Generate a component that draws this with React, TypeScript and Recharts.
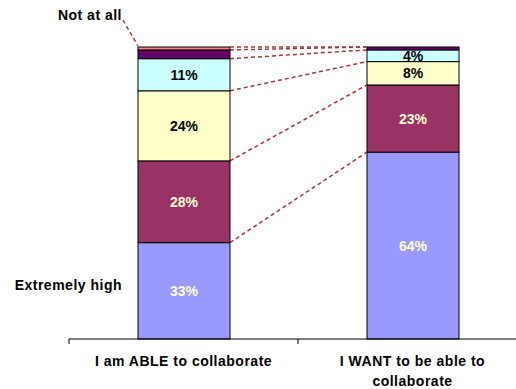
import React from 'react';
import { BarChart, Bar, XAxis, YAxis, LabelList } from 'recharts';

const categories = ['I am ABLE to collaborate', 'I WANT to be able to\ncollaborate'];
const extremelyHigh = [33, 64];
const high = [28, 23];
const moderate = [24, 8];
const low = [11, 4];
const veryLow = [3, 1];
const notAtAll = [1, 0];

const seriesNames = ['Extremely high', 'High', 'Moderate', 'Low', 'Very low', 'Not at all'];
const seriesValues = [extremelyHigh, high, moderate, low, veryLow, notAtAll];
const seriesColors = ['#9999FF', '#993366', '#FFFFCC', '#CCFFFF', '#660066', '#FF8080'];
const labelColors = ['#FFFFCC', '#FFFFCC', '#000', '#000', null, null];

const data = categories.map((name, i) => {
    const row: any = { name };
    seriesValues.forEach((vals, s) => {
        row['s' + s] = vals[i];
    });
    return row;
});

const FONT = '"Liberation Sans", Arial, sans-serif';
const LINK = '#A03A3A';
const SPACING = 0.5;

// right/top edge of the first bar's segments, filled while the shapes render
const firstBar: Record<string, { x: number; y: number }> = {};

const makeShape = (key: string, fill: string, s: number) => (props: any) => {
    const { x, y, width, height, index } = props;
    let link = null;
    let note = null;
    if (index === 0) {
        firstBar[key] = { x: x + width, y };
        if (s === 0) {
            note = (
                <text x={x - 16} y={y + height / 2 - 1} textAnchor="end" fontFamily={FONT}
                    fontSize={14} fontWeight="bold" letterSpacing={SPACING} fill="#000">Extremely high</text>
            );
        }
        if (s === seriesNames.length - 1) {
            note = (
                <g>
                    <line x1={x - 15} y1={y - 27} x2={x} y2={y - 1} stroke={LINK}
                        strokeWidth={1.5} strokeDasharray="4 3" />
                    <text x={x - 16} y={y - 27} textAnchor="end" fontFamily={FONT}
                        fontSize={14} fontWeight="bold" letterSpacing={SPACING} fill="#000">Not at all</text>
                </g>
            );
        }
    } else if (firstBar[key]) {
        const p = firstBar[key];
        link = (
            <line x1={p.x} y1={p.y} x2={x} y2={y} stroke={LINK}
                strokeWidth={1.5} strokeDasharray="4 3" />
        );
    }
    return (
        <g>
            <rect x={x} y={y} width={width} height={height} fill={fill}
                stroke="#000" strokeWidth={1} />
            {link}
            {note}
        </g>
    );
};

const CatTick = (props: any) => {
    const { x, y, payload, index } = props;
    const half = payload.offset || 114.5;
    const lines = String(payload.value).split('\n');
    const ay = y - 5;
    return (
        <g>
            <line x1={x - half} y1={ay} x2={x - half} y2={ay + 5} stroke="#000" />
            {index === categories.length - 1 && (
                <line x1={x + half} y1={ay} x2={x + half} y2={ay + 5} stroke="#000" />
            )}
            <text x={x} y={ay + 27} textAnchor="middle" fontFamily={FONT}
                fontSize={14} fontWeight="bold" letterSpacing={SPACING} fill="#000">
                {lines.map((l, i) => (
                    <tspan key={i} x={x} dy={i === 0 ? 0 : 20}>{l}</tspan>
                ))}
            </text>
        </g>
    );
};

export default function App() {
    return (
        <div style={{ position: 'absolute', left: 0, top: 0, width: 516, height: 389, overflow: 'hidden', background: '#fff' }}>
            <BarChart
                width={530}
                height={389}
                data={data}
                margin={{ top: 47, right: 3, left: 69, bottom: 0 }}
                barSize={92}
            >
                <XAxis
                    dataKey="name"
                    axisLine={{ stroke: '#000' }}
                    tickLine={false}
                    tickSize={5}
                    tickMargin={0}
                    height={50}
                    interval={0}
                    tick={<CatTick />}
                />
                <YAxis hide domain={[0, 100]} width={0} />
                {seriesNames.map((name, s) => (
                    <Bar
                        key={name}
                        dataKey={'s' + s}
                        name={name}
                        stackId="a"
                        fill={seriesColors[s]}
                        isAnimationActive={false}
                        shape={makeShape('s' + s, seriesColors[s], s)}
                    >
                        {labelColors[s] && (
                            <LabelList
                                dataKey={'s' + s}
                                position="center"
                                formatter={(v: any) => v + '%'}
                                fill={labelColors[s] as string}
                                fontFamily={FONT}
                                fontSize={14}
                                fontWeight="bold"
                            />
                        )}
                    </Bar>
                ))}
            </BarChart>
        </div>
    );
}
